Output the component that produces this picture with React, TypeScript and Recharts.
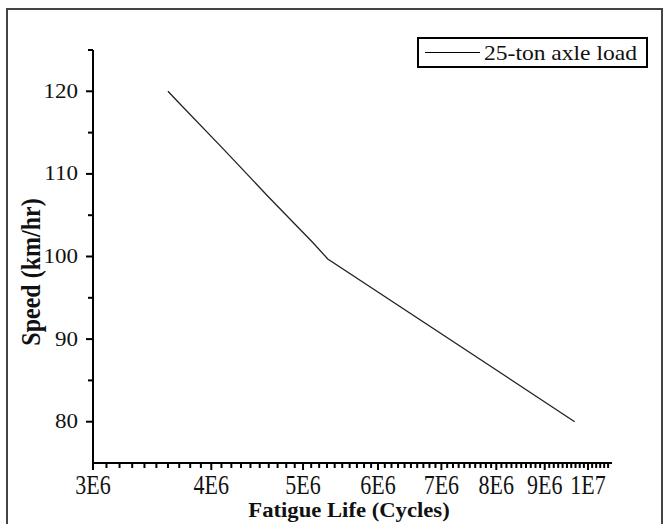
import { LineChart, Line, XAxis, YAxis, Legend, Label } from 'recharts';

// fatigue life (cycles) vs speed, 25-ton axle load
const fatigueLife = [3.6e6, 3.69e6, 4.12e6, 4.59e6, 5.12e6, 5.31e6, 9.68e6];
const speed = [120, 118.7, 113.0, 107.3, 101.7, 99.7, 80];
const seriesName = '25-ton axle load';

const xMajorTicks = [3e6, 4e6, 5e6, 6e6, 7e6, 8e6, 9e6, 1e7];
const xTickLabels = ['3E6', '4E6', '5E6', '6E6', '7E6', '8E6', '9E6', '1E7'];
const yMajorTicks = [80, 90, 100, 110, 120];
const yMinorTicks = [85, 95, 105, 115, 125];

// minor ticks every 1E5 along the log axis
const xAllTicks = Array.from({ length: 76 }, (_, i) => 3e6 + i * 1e5);
const yAllTicks = [...yMajorTicks, ...yMinorTicks].sort((a, b) => a - b);

const data = fatigueLife.map((x, i) => ({ x, speed: speed[i] }));

const FONT = "'Liberation Serif', 'Times New Roman', serif";

function XTick(props: any) {
  const { x, y, payload } = props;
  const idx = xMajorTicks.indexOf(payload.value);
  const major = idx >= 0;
  return (
    <g>
      <line x1={x} x2={x} y1={y} y2={y + (major ? 7 : 5)} stroke="#000" strokeWidth={2} />
      {major && (
        <text
          transform={`translate(${x},${y + 31}) scale(1,1.2)`}
          textAnchor="middle"
          fontFamily={FONT}
          fontSize={22}
          fill="#111"
        >
          {xTickLabels[idx]}
        </text>
      )}
    </g>
  );
}

function YTick(props: any) {
  const { x, y, payload } = props;
  const major = yMajorTicks.includes(payload.value);
  return (
    <g>
      <line x1={x} x2={x - (major ? 7 : 5)} y1={y} y2={y} stroke="#000" strokeWidth={2} />
      {major && (
        <text
          transform={`translate(${x - 15},${y + 6.5}) scale(1.15,1)`}
          textAnchor="end"
          fontFamily={FONT}
          fontSize={20}
          fill="#111"
        >
          {payload.value}
        </text>
      )}
    </g>
  );
}

function LegendBox({ payload }: any) {
  const label = payload?.[0]?.value ?? seriesName;
  return (
    <div
      style={{
        boxSizing: 'border-box',
        width: 231,
        height: 31,
        border: '2px solid #000',
        background: '#fff',
        display: 'flex',
        alignItems: 'center',
        fontFamily: FONT,
        fontSize: 22,
        color: '#111',
        whiteSpace: 'nowrap',
      }}
    >
      <div style={{ width: 55, height: 1.5, background: '#000', marginLeft: 6 }} />
      <span style={{ display: 'inline-block', marginLeft: 4, transform: 'scaleX(1.07)', transformOrigin: 'left center' }}>
        {label}
      </span>
    </div>
  );
}

export default function App() {
  return (
    <div style={{ position: 'absolute', left: 0, top: 0, width: 665, height: 524, overflow: 'hidden', background: '#fff' }}>
      <div
        style={{
          position: 'absolute',
          left: 6,
          top: 8,
          width: 657,
          height: 530,
          boxSizing: 'border-box',
          border: '2px solid #444',
        }}
      />
      <div style={{ position: 'absolute', left: 0, top: 0 }}>
        <LineChart width={665} height={524} data={data} margin={{ top: 50, right: 53, bottom: 21, left: 33 }}>
          <XAxis
            dataKey="x"
            type="number"
            scale="log"
            domain={[3e6, 1.06e7]}
            allowDataOverflow
            ticks={xAllTicks}
            interval={0}
            tick={<XTick />}
            tickLine={false}
            tickSize={0}
            tickMargin={0}
            height={40}
            axisLine={{ stroke: '#000', strokeWidth: 2 }}
          >
            <Label
              content={() => (
                <text
                  transform="translate(349,517) scale(1.08,1)"
                  textAnchor="middle"
                  fontFamily={FONT}
                  fontWeight="bold"
                  fontSize={21}
                  fill="#111"
                >
                  Fatigue Life (Cycles)
                </text>
              )}
            />
          </XAxis>
          <YAxis
            type="number"
            domain={[75, 125]}
            allowDataOverflow
            ticks={yAllTicks}
            interval={0}
            tick={<YTick />}
            tickLine={false}
            tickSize={0}
            tickMargin={0}
            width={60}
            axisLine={{ stroke: '#000', strokeWidth: 2 }}
          >
            <Label
              content={() => (
                <text
                  transform="translate(40,272) rotate(-90) scale(1,1.1)"
                  textAnchor="middle"
                  fontFamily={FONT}
                  fontWeight="bold"
                  fontSize={24}
                  fill="#111"
                >
                  Speed (km/hr)
                </text>
              )}
            />
          </YAxis>
          <Legend
            layout="horizontal"
            verticalAlign="middle"
            align="center"
            content={<LegendBox />}
            wrapperStyle={{ position: 'absolute', left: 417, top: 37, width: 231, height: 31 }}
          />
          <Line
            type="linear"
            dataKey="speed"
            name={seriesName}
            stroke="#222"
            strokeWidth={1.3}
            dot={false}
            isAnimationActive={false}
          />
        </LineChart>
      </div>
    </div>
  );
}
